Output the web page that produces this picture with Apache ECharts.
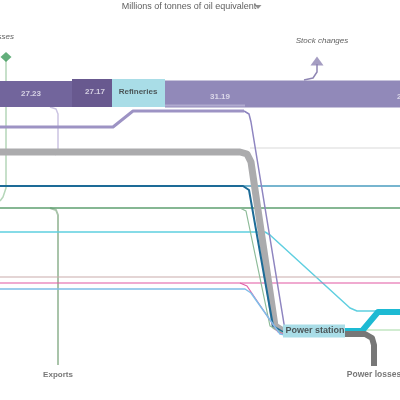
<!DOCTYPE html>
<html>
<head>
<meta charset="utf-8">
<script src="https://cdn.jsdelivr.net/npm/echarts@6/dist/echarts.min.js"></script>
<style>
  html, body { margin: 0; padding: 0; background: #fff; }
  #chart { width: 400px; height: 400px; }
</style>
</head>
<body>
<div id="chart"></div>
<script>
// node names and flow values
const titleText = 'Millions of tonnes of oil equivalent';
const nodeNames = ['Refineries', 'Power station', 'Exports', 'Power losses', 'Stock changes', 'Distribution losses'];
const flowValues = ['27.23', '27.17', '31.19', '27.71'];

// flow paths, in diagram units (0..400 both ways, y downwards)
const bandPrimary = [[0, 94], [72, 94]];
const bandImports = [[72, 93], [112, 93]];
const bandRefinery = [[112, 93], [165, 93]];
const bandOutput = [[165, 94], [400, 94]];
const refineryFeed = [[0, 127], [113, 127], [133, 111], [244, 111]];
const refineryToPower = [[244, 111], [249, 114], [251, 122], [285, 330]];
const stockStem = [[304, 80], [313, 78], [317, 72], [317, 64]];
const lossStem = [[6, 60], [6, 188], [3, 197], [0, 201]];
const bandToExports = [[50, 107], [56, 109], [58, 114], [58, 150], [55, 155]];
const coalPath = [[0, 152], [240, 152], [247, 154], [251, 162], [275, 326], [283, 331]];
const greyThin = [[250, 148], [400, 148]];
const tealThru = [[0, 186], [400, 186]];
const tealBranch = [[0, 186], [243, 186], [249, 190], [273, 326], [283, 332]];
const greenThru = [[0, 208], [400, 208]];
const greenBranch = [[240, 208], [246, 211], [270, 326], [283, 333]];
const greenExports = [[50, 208], [56, 210], [58, 215], [58, 365]];
const cyanPath = [[0, 232], [265, 232], [270, 235], [350, 308], [357, 311], [378, 311]];
const mauveThru = [[0, 277], [400, 277]];
const pinkThru = [[0, 283], [400, 283]];
const pinkBranch = [[240, 283], [247, 286], [278, 332], [284, 334]];
const blueBranch = [[0, 289], [245, 289], [251, 293], [280, 334], [285, 335]];
const powerBox = [[283, 331], [345, 331]];
const powerOut = [[345, 331], [362, 331], [378, 312], [400, 312]];
const powerGreen = [[362, 330], [400, 330]];
const powerLoss = [[345, 334], [365, 334], [372, 338], [374, 345], [374, 366]];

function flow(points, color, width, z) {
  return {
    type: 'line',
    data: points,
    showSymbol: false,
    silent: true,
    z: z || 2,
    lineStyle: { color: color, width: width, cap: 'butt', join: 'round' }
  };
}

const font = 'Liberation Sans, Arial, sans-serif';
function text(x, y, str, style) {
  return { value: [x, y], label: Object.assign({ show: true, formatter: str, fontFamily: font }, style) };
}

const labels = [
  text(189, 7, titleText, { fontSize: 9, color: '#333' }),
  text(14, 37, nodeNames[5], { fontSize: 8, color: '#333', fontStyle: 'italic', align: 'right' }),
  text(31, 94, flowValues[0], { fontSize: 8, color: '#eceaf4', fontWeight: 'bold' }),
  text(95, 92, flowValues[1], { fontSize: 8, color: '#eceaf4', fontWeight: 'bold' }),
  text(138, 92, nodeNames[0], { fontSize: 8, color: '#333', fontWeight: 'bold' }),
  text(220, 97, flowValues[2], { fontSize: 8, color: '#eceaf4', fontWeight: 'bold' }),
  text(397, 97, flowValues[3], { fontSize: 8, color: '#eceaf4', fontWeight: 'bold', align: 'left' }),
  text(322, 41, nodeNames[4], { fontSize: 8, color: '#333', fontStyle: 'italic' }),
  text(58, 375, nodeNames[2], { fontSize: 8, color: '#555', fontWeight: 'bold' }),
  text(315, 331, nodeNames[1], { fontSize: 9, color: '#333', fontWeight: 'bold' }),
  text(374, 375, nodeNames[3], { fontSize: 8.5, color: '#555', fontWeight: 'bold' })
];

const chart = echarts.init(document.getElementById('chart'));
chart.setOption({
  animation: false,
  grid: { left: 0, right: 0, top: 0, bottom: 0 },
  xAxis: { type: 'value', min: 0, max: 400, show: false },
  yAxis: { type: 'value', min: 0, max: 400, inverse: true, show: false },
  series: [
    flow(bandPrimary, '#72659c', 26, 3),
    flow(bandImports, '#68598f', 28, 3),
    flow(bandRefinery, '#a9dde7', 28, 3),
    flow(bandOutput, '#9189b9', 27, 3),
    flow([[165, 105.5], [245, 105.5]], '#b1abd0', 2, 4),
    flow(stockStem, '#8e85b3', 1.5),
    flow(lossStem, '#b5d6b9', 1.5),
    flow(bandToExports, '#cbc4e2', 1.5),
    flow(greenExports, '#a9c4aa', 2),
    flow(refineryFeed, '#9d93c4', 3),
    flow(refineryToPower, '#8e85c0', 1.5, 5),
    flow(greyThin, '#d9d9d9', 1.2),
    flow(coalPath, '#ababad', 7, 3),
    flow(tealThru, '#4a9cbf', 1.3),
    flow(tealBranch, '#1d6b97', 2, 4),
    flow(greenThru, '#5e9f6f', 1.3),
    flow(greenBranch, '#8dbb98', 1.2, 4),
    flow(cyanPath, '#5fcfe0', 1.5),
    flow(mauveThru, '#c9abab', 1),
    flow(pinkThru, '#e257a2', 1.2),
    flow(pinkBranch, '#e060a8', 1.2, 4),
    flow(blueBranch, '#7fbde8', 1.5, 4),
    flow(powerBox, '#a9dde7', 13, 6),
    flow(powerOut, '#1dbad3', 6, 5),
    flow(powerGreen, '#a3d9a3', 1.2, 4),
    flow(powerLoss, '#777777', 6, 5),
    {
      type: 'scatter',
      silent: true,
      z: 6,
      data: [
        { value: [6, 57], symbol: 'diamond', symbolSize: [11, 10], itemStyle: { color: '#3c9a5a' } },
        { value: [317, 61], symbol: 'triangle', symbolSize: [13, 9], itemStyle: { color: '#8e85b3' } },
        { value: [258, 7], symbol: 'triangle', symbolRotate: 180, symbolSize: [7, 4], itemStyle: { color: '#777' } }
      ]
    },
    {
      type: 'scatter',
      silent: true,
      z: 10,
      symbolSize: 0,
      data: labels
    }
  ]
});
</script>
</body>
</html>
